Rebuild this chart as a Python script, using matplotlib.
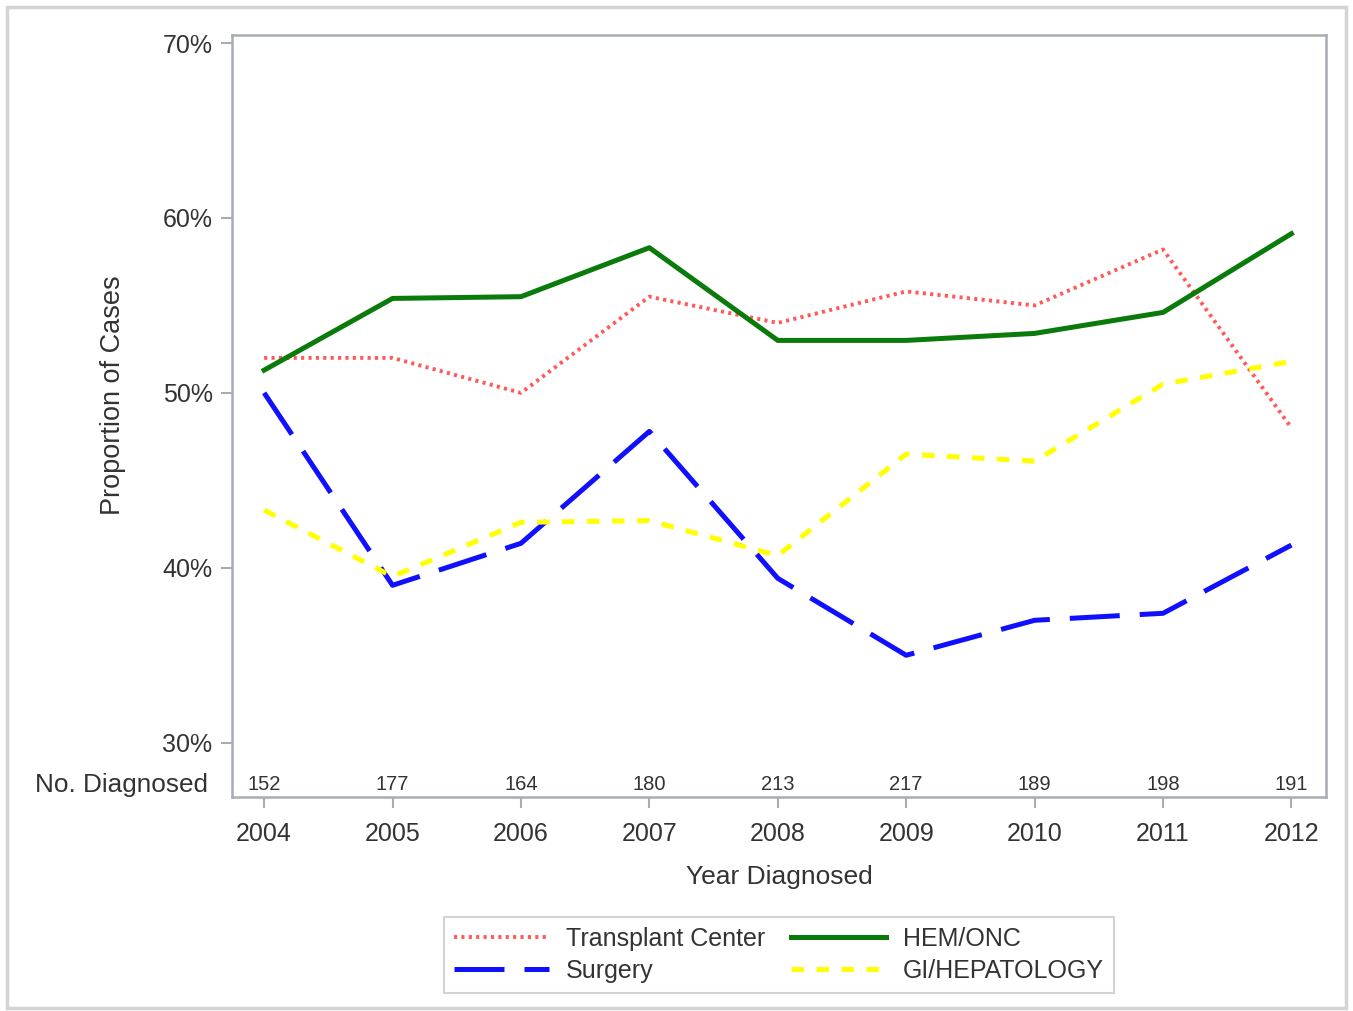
import matplotlib
matplotlib.use('Agg')
import numpy as np
import matplotlib.pyplot as plt
from matplotlib.patches import Rectangle
from matplotlib.transforms import blended_transform_factory

plt.rcParams['font.family'] = ['Liberation Sans', 'DejaVu Sans']

# 数据
years = [2004, 2005, 2006, 2007, 2008, 2009, 2010, 2011, 2012]
n_diagnosed = [152, 177, 164, 180, 213, 217, 189, 198, 191]
transplant = [52.0, 52.0, 50.0, 55.5, 54.0, 55.8, 55.0, 58.2, 48.0]
hem_onc = [51.3, 55.4, 55.5, 58.3, 53.0, 53.0, 53.4, 54.6, 59.1]
surgery = [50.0, 39.0, 41.4, 47.8, 39.4, 35.0, 37.0, 37.4, 41.3]
gi_hep = [43.3, 39.5, 42.6, 42.7, 40.7, 46.5, 46.1, 50.5, 51.8]
y_ticks = [30, 40, 50, 60, 70]

txt_color = '#333333'
spine_color = '#a8adb3'

fig = plt.figure(figsize=(13.53, 10.11), dpi=100)
ax = fig.add_axes([0.1715, 0.2117, 0.8086, 0.7537])

ax.plot(years, transplant, color='#ff5a5a', lw=2.8, linestyle=(0, (0.8, 1.1)),
        label='Transplant Center')
ax.plot(years, surgery, color='#1010ff', lw=3.6, linestyle=(0, (10, 4)),
        label='Surgery')
ax.plot(years, hem_onc, color='#0a7a0a', lw=3.6, label='HEM/ONC')
ax.plot(years, gi_hep, color='#ffff00', lw=3.6, linestyle=(0, (2.5, 2.5)),
        label='GI/HEPATOLOGY')

ax.set_xlim(2003.75, 2012.27)
ax.set_ylim(26.9, 70.46)
ax.set_xticks(years)
ax.set_xticklabels([str(y) for y in years])
ax.set_yticks(y_ticks)
ax.set_yticklabels(['%d%%' % v for v in y_ticks])

for s in ax.spines.values():
    s.set_color(spine_color)
    s.set_linewidth(1.8)
ax.tick_params(axis='both', colors=spine_color, labelcolor=txt_color,
               labelsize=18, length=8, width=1.5, pad=6)
ax.tick_params(axis='x', pad=10)

# 每年诊断数
for x, n in zip(years, n_diagnosed):
    ax.text(x, 27.6, str(n), ha='center', va='center', fontsize=14.5, color=txt_color)
trans = blended_transform_factory(ax.transAxes, ax.transData)
ax.text(-0.022, 27.6, 'No. Diagnosed', transform=trans, ha='right', va='center',
        fontsize=18.8, color=txt_color)

ax.set_ylabel('Proportion of Cases', fontsize=19.5, color=txt_color)
ax.yaxis.set_label_coords(-0.097, 0.5276)
ax.set_xlabel('Year Diagnosed', fontsize=19, color=txt_color, labelpad=14)

leg = fig.legend(loc='center', bbox_to_anchor=(0.5757, 0.0554), ncol=2,
                 fontsize=18, handlelength=3.8, columnspacing=1.0,
                 fancybox=False, frameon=True, borderpad=0.4,
                 labelspacing=0.3, handletextpad=0.7)
leg.get_frame().set_edgecolor('#c8c8c8')
leg.get_frame().set_linewidth(1.5)
for t in leg.get_texts():
    t.set_color(txt_color)

fig.patches.append(Rectangle((7 / 1353, 3 / 1011), 1339 / 1353, 1001 / 1011,
                             transform=fig.transFigure, fill=False,
                             edgecolor='#d4d4d4', linewidth=2.5))

plt.savefig('out.png', dpi=100)
